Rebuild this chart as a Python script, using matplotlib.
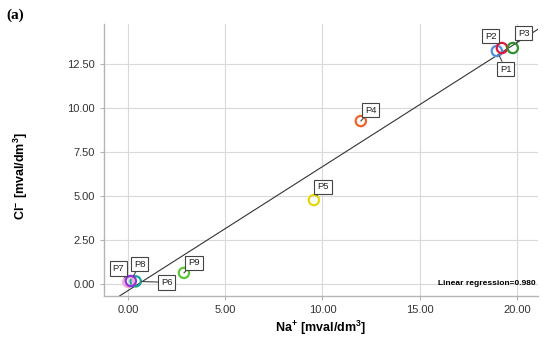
#!/usr/bin/env python3
"""Cl- vs Na+ scatter with labelled points and regression line"""
import numpy as np
import matplotlib
matplotlib.use("Agg")
import matplotlib.pyplot as plt

# data
labels = ["P1", "P2", "P3", "P4", "P5", "P6", "P7", "P8", "P9"]
na = [18.96, 19.22, 19.78, 11.97, 9.56, 0.40, 0.02, 0.15, 2.88]
cl = [13.24, 13.41, 13.41, 9.26, 4.77, 0.15, 0.12, 0.17, 0.63]
colors = ["#4f8fdc", "#e3173f", "#2f912f", "#f2612a", "#e2d80e",
          "#19a596", "#f3a8d8", "#8b34e0", "#5ec534"]
# label box offsets (points) from each marker
offsets = [(6.5, -13), (-8, 8.6), (8, 10.8), (7.2, 7.9), (6.5, 9.4),
           (22.3, -0.7), (-7.2, 9.4), (6.5, 12.2), (7.2, 7.2)]

# regression line as drawn in the figure
fit_slope = 0.705
fit_intercept = -0.38
r_text = "Linear regression=0.980"

plt.rcParams["font.family"] = ["Liberation Sans", "DejaVu Sans"]
plt.rcParams["mathtext.fontset"] = "custom"
plt.rcParams["mathtext.rm"] = "Liberation Sans"
plt.rcParams["mathtext.bf"] = "Liberation Sans:bold"

fig = plt.figure(figsize=(5.5, 3.49), dpi=100)
ax = fig.add_axes([0.189, 0.152, 0.789, 0.779])

ax.set_xlim(-1.23, 21.07)
ax.set_ylim(-0.68, 14.77)
ax.set_xticks([0, 5, 10, 15, 20])
ax.set_yticks([0, 2.5, 5, 7.5, 10, 12.5])
ax.set_xticklabels(["%.2f" % v for v in ax.get_xticks()])
ax.set_yticklabels(["%.2f" % v for v in ax.get_yticks()])
ax.tick_params(labelsize=8, color="#b5b5b5", length=3, width=0.8,
               labelcolor="#333333")
ax.grid(True, color="#d9d9d9", linewidth=0.8)
ax.set_axisbelow(True)
for side in ["top", "right"]:
    ax.spines[side].set_visible(False)
for side in ["left", "bottom"]:
    ax.spines[side].set_color("#b5b5b5")
    ax.spines[side].set_linewidth(1.0)

# regression line across the plot area
xl = np.array(ax.get_xlim())
ax.plot(xl, fit_slope * xl + fit_intercept, color="#333333", lw=0.8,
        zorder=2)

for lab, x, y, c, off in zip(labels, na, cl, colors, offsets):
    ax.scatter(x, y, s=55, facecolors="none", edgecolors=c,
               linewidths=1.6, zorder=3)
    ax.annotate(lab, (x, y), xytext=off, textcoords="offset points",
                fontsize=6.8, ha="center", va="center", color="#222222",
                bbox=dict(boxstyle="square,pad=0.3", fc="white",
                          ec="#444444", lw=0.8),
                arrowprops=dict(arrowstyle="-", color="#444444", lw=0.8,
                                shrinkA=0, shrinkB=4),
                zorder=4)

ax.text(0.995, 0.045, r_text, transform=ax.transAxes, fontsize=6,
        fontweight="bold", ha="right", va="center")

ax.set_xlabel(r"$\mathbf{Na^{+}\ [mval/dm^{3}]}$", fontsize=9, labelpad=3)
ax.set_ylabel(r"$\mathbf{Cl^{-}\ [mval/dm^{3}]}$", fontsize=9)
ax.yaxis.set_label_coords(-0.17, 0.44)

fig.text(0.012, 0.955, "(a)", fontsize=11, fontweight="bold",
         family="Liberation Serif", va="center")

plt.savefig("out.png", dpi=100)
